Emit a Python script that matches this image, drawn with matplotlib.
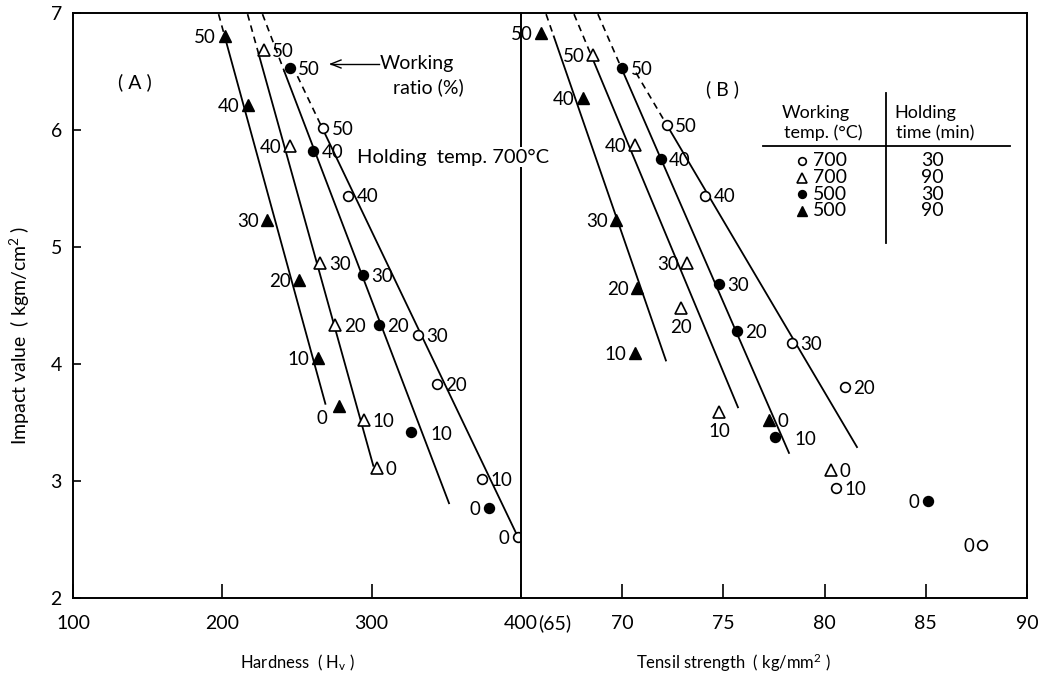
import numpy as np
import matplotlib.pyplot as plt
from matplotlib.lines import Line2D

plt.rcParams['font.family'] = ['Lato', 'DejaVu Sans']
plt.rcParams['mathtext.default'] = 'regular'

W, H = 1045, 677

# Working ratio (%) for every specimen, top to bottom
ratio = [50, 40, 30, 20, 10, 0]

# (A) Hardness Hv vs impact value
hv_o700_30 = [267.7, 284.4, 331.0, 343.8, 373.9, 398.0]
imp_o700_30_a = [6.02, 5.44, 4.25, 3.83, 3.02, 2.52]
hv_t700_90 = [227.6, 245.0, 265.7, 275.7, 295.0, 303.7]
imp_t700_90_a = [6.68, 5.86, 4.86, 4.33, 3.52, 3.11]
hv_c500_30 = [245.0, 261.0, 294.4, 305.0, 326.5, 378.6]
imp_c500_30_a = [6.53, 5.82, 4.76, 4.33, 3.42, 2.77]
hv_t500_90 = [201.5, 217.0, 230.0, 251.6, 264.0, 278.0]
imp_t500_90_a = [6.80, 6.21, 5.23, 4.72, 4.05, 3.64]

# (B) Tensile strength kg/mm2 vs impact value
ts_o700_30 = [72.2, 74.1, 78.4, 81.0, 80.56, 87.8]
imp_o700_30_b = [6.04, 5.44, 4.18, 3.80, 2.94, 2.45]
ts_t700_90 = [68.56, 70.63, 73.2, 72.9, 74.78, 80.3]
imp_t700_90_b = [6.64, 5.87, 4.86, 4.48, 3.59, 3.09]
ts_c500_30 = [70.0, 71.9, 74.78, 75.67, 77.55, 85.1]
imp_c500_30_b = [6.53, 5.75, 4.68, 4.28, 3.38, 2.83]
ts_t500_90 = [66.0, 68.06, 69.7, 70.73, 70.63, 77.25]
imp_t500_90_b = [6.83, 6.27, 5.23, 4.65, 4.09, 3.52]

# hand-drawn trend lines: (x_hi, imp_hi, imp_break, x_lo, imp_lo)
# dashed from hi down to break, solid from break down to lo
trend_o_a = (250.3, 6.46, 6.02, 398.0, 2.52)
trend_t7_a = (216.9, 6.99, 6.65, 301.1, 3.13)
trend_c_a = (226.9, 6.99, 6.50, 351.8, 2.81)
trend_t5_a = (197.5, 6.99, 6.78, 269.0, 3.66)
trend_o_b = (70.68, 6.49, 6.02, 81.6, 3.29)
trend_t7_b = (67.62, 6.99, 6.62, 75.72, 3.63)
trend_c_b = (68.8, 6.99, 6.50, 78.24, 3.24)
trend_t5_b = (66.24, 6.99, 6.80, 72.16, 4.03)

# legend table rows
leg_temp = ['700', '700', '500', '500']
leg_time = ['30', '90', '30', '90']

STYLE = {
    'o': dict(marker='o', mfc='white', mec='black', ms=7, mew=1.2),
    't': dict(marker='^', mfc='white', mec='black', ms=8, mew=1.2),
    'c': dict(marker='o', mfc='black', mec='black', ms=7, mew=1.2),
    'T': dict(marker='^', mfc='black', mec='black', ms=8.5, mew=1.0),
}

OFFS = {
    'r': ((6, -1), 'left', 'center'),
    'rr': ((14, -2), 'left', 'center'),
    'l': ((-6, -1), 'right', 'center'),
    'lb': ((-8, -9), 'right', 'center'),
    'b': ((0, -14), 'center', 'center'),
}

FS_LAB = 13.5
FS_TXT = 14


def trend(ax, spec):
    x_hi, i_hi, i_br, x_lo, i_lo = spec
    slope = (x_lo - x_hi) / (i_lo - i_hi)
    x_br = x_hi + slope * (i_br - i_hi)
    ax.plot([x_hi, x_br], [i_hi, i_br], color='black', lw=1.2,
            ls=(0, (4, 3)), zorder=2)
    ax.plot([x_br, x_lo], [i_br, i_lo], color='black', lw=1.3, zorder=2)


def points(ax, xs, ys, key, sides):
    ax.plot(xs, ys, ls='none', zorder=4, **STYLE[key])
    for x, y, r, s in zip(xs, ys, ratio, sides):
        off, ha, va = OFFS[s]
        ax.annotate(str(r), (x, y), xytext=off, textcoords='offset points',
                    ha=ha, va=va, fontsize=FS_LAB)


fig = plt.figure(figsize=(W / 100, H / 100), dpi=100)
ax_a = fig.add_axes([73 / W, 1 - 598 / H, 448 / W, 585 / H])
ax_b = fig.add_axes([521 / W, 1 - 598 / H, 506 / W, 585 / H], sharey=ax_a)

for ax in (ax_a, ax_b):
    for sp in ax.spines.values():
        sp.set_linewidth(1.4)
    ax.tick_params(direction='in', labelsize=FS_TXT, width=1.2)

ax_a.set_xlim(100, 400)
ax_a.set_ylim(2, 7)
ax_a.set_yticks([2, 3, 4, 5, 6, 7])
ax_a.tick_params(axis='y', length=6, pad=8)
ax_a.set_xticks([100, 200, 300, 400])
ax_a.set_xticklabels(['100', '200', '300', '400'])
ax_a.tick_params(axis='x', length=10, pad=12)
ax_a.spines['right'].set_visible(False)
ax_a.annotate('(65)', (400, 0), xycoords=('data', 'axes fraction'),
              xytext=(12, -12), textcoords='offset points',
              ha='left', va='top', fontsize=FS_TXT)

ax_b.set_xlim(65, 90)
ax_b.set_xticks([70, 75, 80, 85, 90])
ax_b.tick_params(axis='x', length=10, pad=12)
ax_b.tick_params(axis='y', left=False, labelleft=False)

# (A) hardness panel
trend(ax_a, trend_t5_a)
trend(ax_a, trend_t7_a)
trend(ax_a, trend_c_a)
trend(ax_a, trend_o_a)
points(ax_a, hv_o700_30, imp_o700_30_a, 'o', ['r', 'r', 'r', 'r', 'r', 'l'])
points(ax_a, hv_t700_90, imp_t700_90_a, 't', ['r', 'l', 'r', 'r', 'r', 'r'])
points(ax_a, hv_c500_30, imp_c500_30_a, 'c', ['r', 'r', 'r', 'r', 'rr', 'l'])
points(ax_a, hv_t500_90, imp_t500_90_a, 'T', ['l', 'l', 'l', 'l', 'l', 'lb'])

# (B) tensile strength panel
trend(ax_b, trend_t5_b)
trend(ax_b, trend_t7_b)
trend(ax_b, trend_c_b)
trend(ax_b, trend_o_b)
points(ax_b, ts_o700_30, imp_o700_30_b, 'o', ['r', 'r', 'r', 'r', 'r', 'l'])
points(ax_b, ts_t700_90, imp_t700_90_b, 't', ['l', 'l', 'l', 'b', 'b', 'r'])
points(ax_b, ts_c500_30, imp_c500_30_b, 'c', ['r', 'r', 'r', 'r', 'rr', 'l'])
points(ax_b, ts_t500_90, imp_t500_90_b, 'T', ['l', 'l', 'l', 'l', 'l', 'r'])


# panel captions and notes (pixel placement on the figure)
def fx(px):
    return px / W


def fy(py):
    return 1 - py / H


fig.text(fx(135), fy(82), '( A )', ha='center', va='center', fontsize=FS_TXT)
fig.text(fx(722), fy(89), '( B )', ha='center', va='center', fontsize=FS_TXT)
fig.text(fx(357), fy(157), 'Holding  temp. 700°C', ha='left', va='center',
         fontsize=14.5, zorder=10,
         bbox=dict(facecolor='white', edgecolor='none', pad=1.0))
fig.text(fx(417), fy(63), 'Working', ha='center', va='center', fontsize=FS_TXT)
fig.text(fx(428), fy(87), 'ratio (%)', ha='center', va='center', fontsize=FS_TXT)
fig.add_artist(Line2D([fx(331), fx(379)], [fy(64), fy(64)], color='black', lw=1.0))
fig.add_artist(Line2D([fx(331), fx(341)], [fy(64), fy(60)], color='black', lw=1.0))
fig.add_artist(Line2D([fx(331), fx(341)], [fy(64), fy(68)], color='black', lw=1.0))

# legend table
fig.text(fx(782), fy(113), 'Working', ha='left', va='center', fontsize=13)
fig.text(fx(784), fy(133), 'temp. (°C)', ha='left', va='center', fontsize=13)
fig.text(fx(894), fy(113), 'Holding', ha='left', va='center', fontsize=13)
fig.text(fx(896), fy(133), 'time (min)', ha='left', va='center', fontsize=13)
fig.add_artist(Line2D([fx(763), fx(1010)], [fy(146), fy(146)], color='black', lw=1.3))
fig.add_artist(Line2D([fx(886), fx(886)], [fy(93), fy(243)], color='black', lw=1.3))
for k, (key, tmp, tm) in enumerate(zip(['o', 't', 'c', 'T'], leg_temp, leg_time)):
    yy = fy(161 + 16.5 * k)
    st = dict(STYLE[key])
    st['ms'] = st['ms'] - 1.5
    fig.add_artist(Line2D([fx(802)], [yy], ls='none', **st))
    fig.text(fx(813), yy, tmp, ha='left', va='center', fontsize=FS_TXT)
    fig.text(fx(932), yy, tm, ha='center', va='center', fontsize=FS_TXT)

# axis titles
fig.text(fx(298), fy(663), 'Hardness  ( H$_{v}$ )', ha='center',
         va='center', fontsize=12)
fig.text(fx(733), fy(663), 'Tensil strength  ( kg/mm$^{2}$ )',
         ha='center', va='center', fontsize=12)
fig.text(fx(20), fy(335), 'Impact value  ( kgm/cm$^{2}$ )',
         ha='center', va='center', rotation=90, fontsize=14)

fig.savefig('out.png', dpi=100, facecolor='white')
